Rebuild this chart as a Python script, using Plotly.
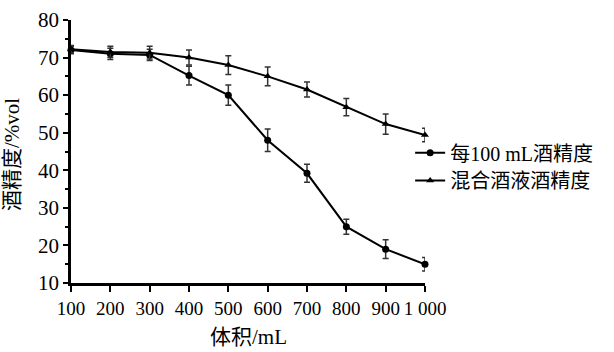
import plotly.graph_objects as go

volume = [100, 200, 300, 400, 500, 600, 700, 800, 900, 1000]
x_tick_labels = ["100", "200", "300", "400", "500", "600", "700", "800", "900", "1 000"]

per100_abv = [72.0, 71.0, 70.7, 65.2, 60.0, 48.0, 39.2, 25.0, 19.0, 15.0]
per100_err = [1.0, 1.5, 1.5, 2.5, 2.7, 3.0, 2.4, 2.0, 2.5, 1.8]

mixed_abv = [72.2, 71.5, 71.3, 70.0, 68.0, 65.0, 61.5, 56.8, 52.3, 49.4]
mixed_err = [1.0, 1.5, 1.7, 2.0, 2.5, 2.5, 2.0, 2.3, 2.7, 1.8]

series_names = ["每100 mL酒精度", "混合酒液酒精度"]

FONT = "Liberation Serif, Times New Roman, Noto Sans CJK SC, serif"

fig = go.Figure()
fig.add_trace(go.Scatter(
    x=volume, y=per100_abv, name=series_names[0], mode="lines+markers",
    line=dict(color="black", width=2),
    marker=dict(symbol="circle", size=7, color="black"),
    error_y=dict(type="data", array=per100_err, color="#333333", thickness=1.5, width=3),
    cliponaxis=False, legend="legend",
))
fig.add_trace(go.Scatter(
    x=volume, y=mixed_abv, name=series_names[1], mode="lines+markers",
    line=dict(color="black", width=2),
    marker=dict(symbol="triangle-up", size=7, color="black"),
    error_y=dict(type="data", array=mixed_err, color="#333333", thickness=1.5, width=3),
    cliponaxis=False, legend="legend2",
))

legend_common = dict(xanchor="left", yanchor="middle",
                     font=dict(family=FONT, size=20, color="black"),
                     bgcolor="rgba(0,0,0,0)", itemwidth=30)

fig.update_layout(
    width=614, height=352,
    margin=dict(l=71, r=189, t=8, b=69),
    paper_bgcolor="white", plot_bgcolor="white",
    font=dict(family=FONT, size=20, color="black"),
    showlegend=True,
    legend=dict(x=0.958, y=0.495, **legend_common),
    legend2=dict(x=0.958, y=0.39, **legend_common),
    xaxis=dict(
        range=[100, 1000], tickmode="array", tickvals=volume, ticktext=x_tick_labels,
        tickangle=0,
        showline=True, linecolor="black", linewidth=3,
        ticks="outside", ticklen=6, tickwidth=2, tickcolor="black",
        showgrid=False, zeroline=False,
        tickfont=dict(family=FONT, size=19),
        ticklabeloverflow="allow",
    ),
    yaxis=dict(
        range=[10, 80], tickmode="linear", tick0=10, dtick=10,
        showline=True, linecolor="black", linewidth=2.5,
        ticks="outside", ticklen=5, tickwidth=2, tickcolor="black",
        minor=dict(ticks="outside", ticklen=3, tickwidth=2, tickcolor="black", dtick=5, tick0=10, showgrid=False),
        showgrid=False, zeroline=False,
        tickfont=dict(family=FONT, size=21),
        ticklabeloverflow="allow",
    ),
    annotations=[
        dict(text="体积/mL", xref="paper", yref="paper", x=0.5, y=-0.207,
             xanchor="center", yanchor="middle", showarrow=False,
             font=dict(family=FONT, size=21)),
        dict(text="酒精度/%vol", xref="paper", yref="paper", x=-0.167, y=0.49,
             xanchor="center", yanchor="middle", showarrow=False, textangle=-90,
             font=dict(family=FONT, size=21)),
    ],
)

fig.write_html("out.html")
